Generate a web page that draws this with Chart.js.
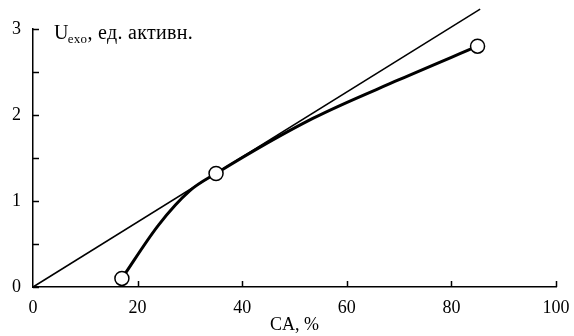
<!DOCTYPE html>
<html>
<head>
<meta charset="utf-8">
<script src="https://cdn.jsdelivr.net/npm/chart.js@4.4.0/dist/chart.umd.min.js"></script>
<style>
  html, body { margin: 0; padding: 0; background: #fff; }
  #wrap { width: 574px; height: 336px; position: relative; }
</style>
</head>
<body>
<div id="wrap"><canvas id="chart"></canvas></div>
<script>
// Measured points (CA, %  ->  U_exo)
const caValues = [17, 35, 85];
const uValues = [0.1, 1.32, 2.8];
// Fitted curve
const curveX = [17, 24, 30, 35, 53.5, 70, 85];
const curveY = [0.1, 0.72, 1.12, 1.32, 1.96, 2.41, 2.8];
// Reference straight line through the origin
const lineX = [0, 85.5];
const lineY = [0, 3.23];
const xTicks = [0, 20, 40, 60, 80, 100];
const yTicks = [0, 0.5, 1, 1.5, 2, 2.5, 3];

const FONT = '"Liberation Serif", "DejaVu Serif", serif';

// Inward tick marks plus the axis label at the top left
const inwardTicks = {
    id: 'inwardTicks',
    afterDraw(chart) {
        const { ctx, scales: { x, y } } = chart;
        ctx.save();
        ctx.strokeStyle = '#000';
        ctx.lineWidth = 1.5;
        yTicks.forEach(v => {
            const py = Math.round(y.getPixelForValue(v)) + 0.5;
            ctx.beginPath();
            ctx.moveTo(x.left, py);
            ctx.lineTo(x.left + 6, py);
            ctx.stroke();
        });
        xTicks.forEach(v => {
            if (v === 0) return;
            const px = Math.round(x.getPixelForValue(v)) + 0.5;
            ctx.beginPath();
            ctx.moveTo(px, y.bottom);
            ctx.lineTo(px, y.bottom - 6);
            ctx.stroke();
        });

        // Y-axis label with subscript
        ctx.fillStyle = '#000';
        ctx.textBaseline = 'alphabetic';
        ctx.textAlign = 'left';
        ctx.letterSpacing = '0.3px';
        let tx = 54;
        const base = 39;
        ctx.font = '20px ' + FONT;
        ctx.fillText('U', tx, base);
        tx += ctx.measureText('U').width - 1;
        ctx.font = '13px ' + FONT;
        ctx.fillText('exo', tx, base + 4);
        tx += ctx.measureText('exo').width;
        ctx.font = '20px ' + FONT;
        ctx.fillText(', ед. активн.', tx, base);
        ctx.restore();
    }
};

new Chart(document.getElementById('chart'), {
    type: 'scatter',
    data: {
        datasets: [
            {
                // markers on top
                data: caValues.map((v, i) => ({ x: v, y: uValues[i] })),
                showLine: false,
                pointRadius: 7,
                pointBorderWidth: 1.5,
                pointBorderColor: '#000',
                pointBackgroundColor: '#fff',
                clip: false
            },
            {
                data: curveX.map((v, i) => ({ x: v, y: curveY[i] })),
                showLine: true,
                borderColor: '#000',
                borderWidth: 3,
                cubicInterpolationMode: 'monotone',
                pointRadius: 0,
                clip: false
            },
            {
                data: lineX.map((v, i) => ({ x: v, y: lineY[i] })),
                showLine: true,
                borderColor: '#000',
                borderWidth: 1.5,
                pointRadius: 0,
                clip: false
            }
        ]
    },
    options: {
        responsive: true,
        maintainAspectRatio: false,
        animation: false,
        layout: { padding: { top: 29, right: 18, left: 0, bottom: 0 } },
        plugins: { legend: { display: false }, tooltip: { enabled: false } },
        scales: {
            x: {
                type: 'linear',
                min: 0,
                max: 100,
                afterFit: s => { s.height = 49; },
                afterBuildTicks: s => { s.ticks = xTicks.map(v => ({ value: v })); },
                grid: { display: false },
                border: { display: true, color: '#000', width: 1.5 },
                ticks: { color: '#000', padding: 2, font: { family: FONT, size: 18 } },
                title: {
                    display: true,
                    text: 'CA, %',
                    color: '#000',
                    font: { family: FONT, size: 18 },
                    padding: { top: 0, bottom: 0 }
                }
            },
            y: {
                type: 'linear',
                min: 0,
                max: 3,
                afterFit: s => { s.width = 33; },
                afterBuildTicks: s => { s.ticks = yTicks.map(v => ({ value: v })); },
                grid: { display: false },
                border: { display: true, color: '#000', width: 1.5 },
                ticks: {
                    color: '#000',
                    padding: 4,
                    font: { family: FONT, size: 18 },
                    callback: v => (Number.isInteger(v) ? v : '')
                }
            }
        }
    },
    plugins: [inwardTicks]
});
</script>
</body>
</html>
